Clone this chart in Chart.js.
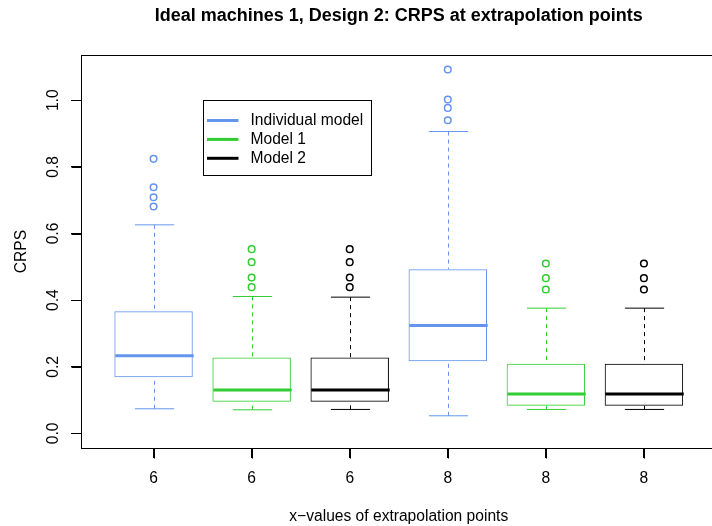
<!DOCTYPE html>
<html>
<head>
<meta charset="utf-8">
<script src="https://cdn.jsdelivr.net/npm/chart.js@4/dist/chart.umd.min.js"></script>
<style>
  html, body { margin: 0; padding: 0; background: #ffffff; overflow: hidden; width: 712px; height: 526px; }
  canvas { display: block; }
</style>
</head>
<body>
<canvas id="crps" width="722" height="526"></canvas>
<script>
// Box positions along the x axis and their tick labels
const boxPositions = [1, 2, 3, 4, 5, 6];
const boxLabels = ['6', '6', '6', '8', '8', '8'];
// Which series each box belongs to
const boxSeries = [0, 1, 2, 0, 1, 2];
const seriesNames = ['Individual model', 'Model 1', 'Model 2'];
const seriesColors = ['#6495ED', '#32CD32', '#000000'];

// Five-number summaries of CRPS per box
const whiskerLow   = [0.074, 0.071, 0.072, 0.053, 0.072, 0.072];
const quartileLow  = [0.169, 0.095, 0.095, 0.217, 0.083, 0.083];
const medians      = [0.233, 0.130, 0.130, 0.324, 0.118, 0.118];
const quartileHigh = [0.367, 0.228, 0.228, 0.493, 0.209, 0.209];
const whiskerHigh  = [0.626, 0.411, 0.409, 0.906, 0.376, 0.376];
const outliers = [
  [0.824, 0.739, 0.709, 0.681],
  [0.553, 0.514, 0.468, 0.439],
  [0.553, 0.514, 0.468, 0.439],
  [1.092, 1.002, 0.977, 0.940],
  [0.510, 0.466, 0.432],
  [0.510, 0.466, 0.432]
];
const yTicks = [0, 0.2, 0.4, 0.6, 0.8, 1.0];

// Axis limits: boxes at 1..n with 0.5 margin, y from 0 to the largest value, both padded by 4%
const xLo = 0.5, xHi = boxPositions.length + 0.5;
const yTop = Math.max(...whiskerHigh, ...outliers.flat());
const xPad = 0.04 * (xHi - xLo), yPad = 0.04 * yTop;

const FONT = "'Liberation Sans', Arial, Helvetica, sans-serif";
const TEXT_SIZE = 15.6;
const TICK_LEN = 10;
Chart.defaults.font.family = FONT;
Chart.defaults.color = '#000000';

const boxDatasets = seriesNames.map((name, s) => ({
  type: 'bar',
  label: name,
  data: boxPositions
    .map((x, i) => (boxSeries[i] === s ? { x: x, y: [quartileLow[i], quartileHigh[i]] } : null))
    .filter(Boolean),
  backgroundColor: 'rgba(0,0,0,0)',
  borderColor: seriesColors[s],
  borderWidth: 1,
  borderSkipped: false,
  grouped: false,
  barPercentage: 0.8,
  categoryPercentage: 1
}));

const outlierDatasets = seriesNames.map((name, s) => ({
  type: 'scatter',
  label: name + ' outliers',
  data: boxPositions.flatMap((x, i) => (boxSeries[i] === s ? outliers[i].map(v => ({ x: x, y: v })) : [])),
  pointStyle: 'circle',
  pointRadius: 3.3,
  pointBorderWidth: 1.5,
  pointBorderColor: seriesColors[s],
  pointBackgroundColor: 'rgba(0,0,0,0)',
  showLine: false
}));

// Whiskers, staples and median lines for every box
const whiskerPlugin = {
  id: 'whiskers',
  afterDatasetsDraw(chart) {
    const { ctx, scales: { x, y } } = chart;
    const unit = Math.abs(x.getPixelForValue(1) - x.getPixelForValue(0));
    const seg = (x1, y1, x2, y2) => { ctx.beginPath(); ctx.moveTo(x1, y1); ctx.lineTo(x2, y2); ctx.stroke(); };
    ctx.save();
    boxPositions.forEach((pos, i) => {
      const color = seriesColors[boxSeries[i]];
      const cx = Math.round(x.getPixelForValue(pos)) + 0.5;
      const half = 0.4 * unit, cap = 0.2 * unit;
      const yLo = y.getPixelForValue(whiskerLow[i]);
      const yQ1 = y.getPixelForValue(quartileLow[i]);
      const yMed = y.getPixelForValue(medians[i]);
      const yQ3 = y.getPixelForValue(quartileHigh[i]);
      const yHi = y.getPixelForValue(whiskerHigh[i]);
      ctx.strokeStyle = color;
      ctx.lineWidth = 1;
      ctx.setLineDash([4, 4]);
      seg(cx, yLo, cx, yQ1);
      seg(cx, yHi, cx, yQ3);
      ctx.setLineDash([]);
      seg(cx - cap, yLo, cx + cap, yLo);
      seg(cx - cap, yHi, cx + cap, yHi);
      ctx.lineWidth = 3;
      seg(cx - half, yMed, cx + half, yMed);
    });
    ctx.restore();
  }
};

// Plot frame, outward axis ticks and the boxed key placed at data coordinates (1.5, 1.0)
const framePlugin = {
  id: 'frame',
  afterDraw(chart) {
    const { ctx, chartArea: a, scales: { x, y } } = chart;
    const left = Math.round(a.left) + 0.5, top = Math.round(a.top) + 0.5;
    const right = Math.round(a.right) + 0.5, bottom = Math.round(a.bottom) + 0.5;
    ctx.save();
    ctx.strokeStyle = '#000000';
    ctx.lineWidth = 1;
    ctx.strokeRect(left, top, right - left, bottom - top);

    ctx.beginPath();
    x.ticks.forEach(t => {
      const px = Math.round(x.getPixelForValue(t.value)) + 0.5;
      ctx.moveTo(px, bottom);
      ctx.lineTo(px, bottom + TICK_LEN);
    });
    y.ticks.forEach(t => {
      const py = Math.round(y.getPixelForValue(t.value)) + 0.5;
      ctx.moveTo(left, py);
      ctx.lineTo(left - TICK_LEN, py);
    });
    ctx.stroke();

    const lx = Math.round(x.getPixelForValue(1.5)) + 0.5;
    const ly = Math.round(y.getPixelForValue(1.0)) + 0.5;
    ctx.fillStyle = '#ffffff';
    ctx.fillRect(lx, ly, 168, 75);
    ctx.strokeRect(lx, ly, 168, 75);
    ctx.font = TEXT_SIZE + 'px ' + FONT;
    ctx.textBaseline = 'middle';
    ctx.textAlign = 'left';
    seriesNames.forEach((name, s) => {
      const ry = ly + 20 + s * 18.9;
      ctx.strokeStyle = seriesColors[s];
      ctx.lineWidth = 3;
      ctx.beginPath();
      ctx.moveTo(lx + 3.5, ry);
      ctx.lineTo(lx + 35, ry);
      ctx.stroke();
      ctx.fillStyle = '#000000';
      ctx.fillText(name, lx + 47, ry);
    });
    ctx.restore();
  }
};

new Chart(document.getElementById('crps'), {
  type: 'bar',
  data: { datasets: [...boxDatasets, ...outlierDatasets] },
  options: {
    responsive: false,
    animation: false,
    devicePixelRatio: 1,
    layout: { padding: { top: 0, right: 2, bottom: 0, left: 0 } },
    plugins: {
      legend: { display: false },
      tooltip: { enabled: false },
      title: {
        display: true,
        fullSize: false,
        text: 'Ideal machines 1, Design 2: CRPS at extrapolation points',
        font: { size: 18, weight: 'bold' },
        color: '#000000',
        padding: { top: 5, bottom: 28.4 }
      }
    },
    scales: {
      x: {
        type: 'linear',
        offset: false,
        min: xLo - xPad,
        max: xHi + xPad,
        afterBuildTicks: s => { s.ticks = boxPositions.map(v => ({ value: v })); },
        afterFit: s => { s.height = 78; },
        ticks: {
          autoSkip: false,
          maxRotation: 0,
          font: { size: TEXT_SIZE },
          color: '#000000',
          padding: 11,
          callback: (v, i) => boxLabels[i]
        },
        grid: { offset: false, drawOnChartArea: false, drawTicks: true, tickLength: TICK_LEN, color: '#000000', lineWidth: 1 },
        border: { display: false },
        title: { display: true, text: 'x\u2212values of extrapolation points', font: { size: TEXT_SIZE }, color: '#000000', padding: { top: 0, bottom: 0 } }
      },
      y: {
        type: 'linear',
        min: -yPad,
        max: yTop + yPad,
        afterBuildTicks: s => { s.ticks = yTicks.map(v => ({ value: v })); },
        afterFit: s => { s.width = 81; },
        ticks: {
          autoSkip: false,
          minRotation: 90,
          maxRotation: 90,
          crossAlign: 'center',
          font: { size: TEXT_SIZE },
          color: '#000000',
          padding: 6,
          callback: v => v.toFixed(1)
        },
        grid: { drawOnChartArea: false, drawTicks: true, tickLength: TICK_LEN, color: '#000000', lineWidth: 1 },
        border: { display: false },
        title: { display: true, text: 'CRPS', font: { size: TEXT_SIZE }, color: '#000000', padding: { top: 12, bottom: 0 } }
      }
    }
  },
  plugins: [whiskerPlugin, framePlugin]
});
</script>
</body>
</html>
